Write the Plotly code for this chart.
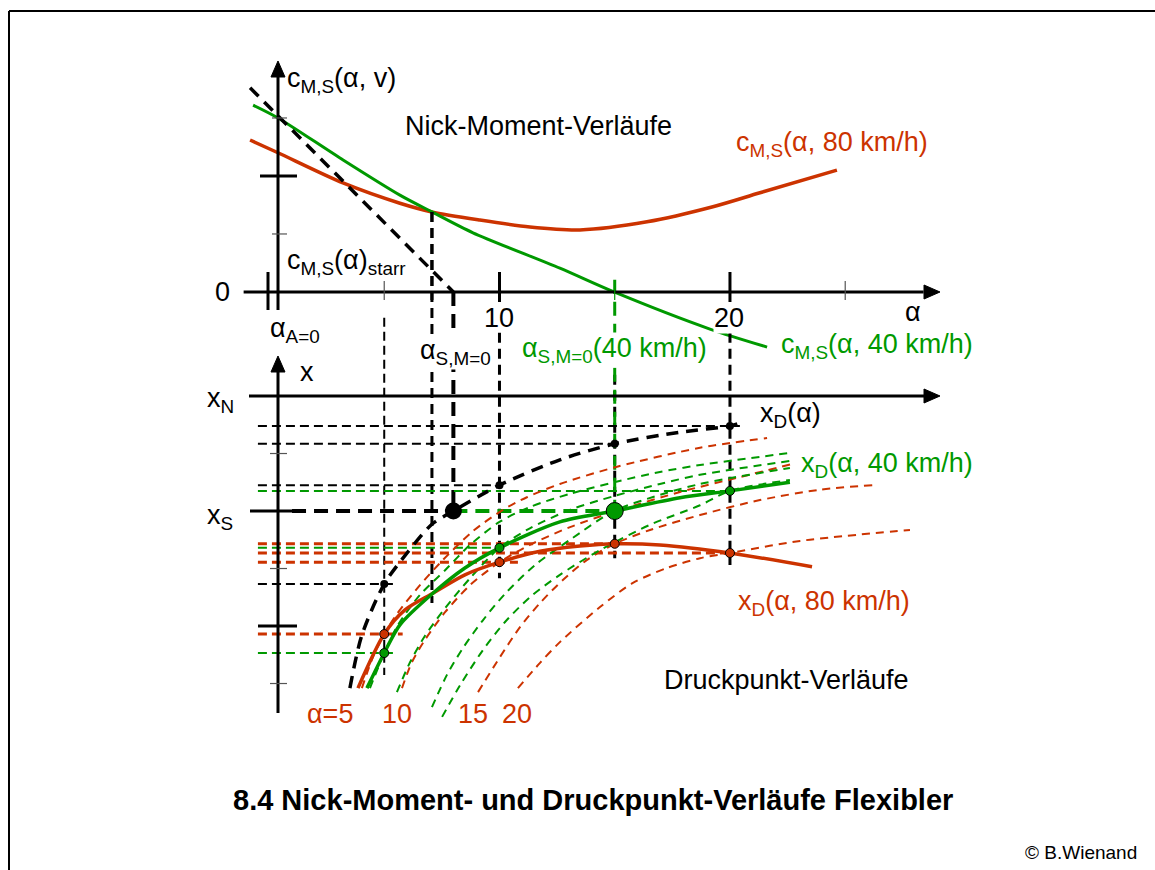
import plotly.graph_objects as go

W, H = 1155, 870
RED = "#CC3300"
GREEN = "#009900"
BLACK = "#000000"
FONT = "Liberation Sans, Arial, sans-serif"

# ---------------- pitching moment c_M,S over alpha (upper panel) ----------------
cm80_alpha = [-0.82, 0.39, 3.21, 5.68, 7.07, 9.15, 11.32, 13.49, 16.40, 19.26, 21.30, 24.64]
cm80_value = [2.62, 2.40, 1.88, 1.53, 1.38, 1.24, 1.12, 1.07, 1.21, 1.47, 1.71, 2.10]

cm40_alpha = [-0.69, 0.39, 3.08, 5.68, 7.07, 8.85, 12.62, 14.97, 19.13, 21.61]
cm40_value = [3.22, 3.00, 2.31, 1.67, 1.38, 1.02, 0.41, 0.0, -0.64, -0.95]

cm_rigid_alpha = [-0.82, 8.0]
cm_rigid_value = [3.52, 0.0]

# ---------------- centre of pressure x_D over alpha (lower panel) ----------------
xd_rigid_alpha = [3.51, 4.03, 5.0, 5.99, 7.07, 8.0, 10.0, 12.62, 15.0, 17.83, 20.0, 20.43]
xd_rigid_value = [-5.08, -4.16, -3.27, -2.73, -2.23, -2.0, -1.55, -1.11, -0.83, -0.63, -0.52, -0.47]

xd40_alpha = [4.25, 5.0, 5.68, 7.11, 8.5, 10.0, 12.62, 15.0, 17.83, 20.0, 22.6]
xd40_value = [-5.08, -4.47, -3.98, -3.43, -2.99, -2.64, -2.19, -2.0, -1.77, -1.65, -1.50]

xd80_alpha = [3.86, 5.0, 5.9, 7.11, 8.5, 10.0, 11.76, 13.49, 15.0, 16.96, 20.0, 23.56]
xd80_value = [-5.08, -4.14, -3.72, -3.43, -3.11, -2.89, -2.70, -2.61, -2.57, -2.59, -2.73, -2.97]

# family of x_D curves at fixed geometric alpha (80 km/h)
fam80_a05 = [4.03, 4.51, 5.0, 5.55, 6.55, 7.55, 8.85, 10.15, 11.19, 12.62, 15.10, 18.70, 21.61]
fam80_x05 = [-5.08, -4.54, -4.14, -3.79, -3.29, -2.85, -2.35, -1.98, -1.76, -1.53, -1.23, -0.90, -0.73]
fam80_a10 = [5.77, 6.20, 6.77, 7.64, 8.72, 10.0, 11.32, 13.06, 15.23, 17.83, 20.43, 22.73]
fam80_x10 = [-5.08, -4.63, -4.24, -3.76, -3.29, -2.89, -2.59, -2.28, -1.98, -1.67, -1.41, -1.18]
fam80_a15 = [9.07, 10.02, 10.89, 11.76, 12.75, 13.80, 15.0, 16.53, 18.70, 21.30, 23.90, 26.20]
fam80_x15 = [-5.15, -4.54, -4.02, -3.60, -3.20, -2.85, -2.57, -2.33, -2.07, -1.81, -1.63, -1.55]
fam80_a20 = [10.80, 11.76, 12.62, 14.36, 15.79, 17.27, 18.70, 20.0, 23.04, 27.81]
fam80_x20 = [-5.08, -4.64, -4.28, -3.67, -3.25, -2.99, -2.82, -2.73, -2.52, -2.33]

# family of x_D curves at fixed geometric alpha (40 km/h)
fam40_a05 = [4.38, 5.0, 5.60, 6.55, 7.64, 8.72, 10.0, 11.32, 13.06, 14.97, 16.96, 18.70, 22.60]
fam40_x05 = [-5.08, -4.47, -3.98, -3.46, -3.03, -2.59, -2.19, -1.93, -1.70, -1.50, -1.32, -1.20, -0.99]
fam40_a10 = [5.55, 6.12, 6.77, 7.64, 8.72, 10.0, 11.32, 13.06, 14.97, 16.96, 18.70, 22.60]
fam40_x10 = [-5.15, -4.63, -4.17, -3.69, -3.17, -2.64, -2.30, -1.98, -1.74, -1.53, -1.37, -1.13]
fam40_a15 = [7.07, 7.72, 8.42, 9.28, 10.24, 11.54, 13.06, 14.97, 16.96, 18.70, 22.60]
fam40_x15 = [-5.41, -4.85, -4.38, -3.90, -3.44, -2.94, -2.50, -2.0, -1.72, -1.53, -1.25]
fam40_a20 = [7.51, 8.29, 9.28, 10.24, 11.32, 12.62, 14.36, 16.53, 18.70, 20.0, 22.60]
fam40_x20 = [-5.58, -5.03, -4.42, -3.93, -3.50, -3.11, -2.68, -2.24, -1.90, -1.65, -1.46]

# read-off points at alpha = 5, 10, 15, 20
mark_alpha = [5, 10, 15, 20]
mark_rigid = [-3.27, -1.55, -0.83, -0.52]
mark_40 = [-4.47, -2.64, -2.0, -1.65]
mark_80 = [-4.14, -2.89, -2.57, -2.73]
# right ends of the horizontal read-off lines
end_rigid = [5.4, 10.0, 15.0, 20.43]
end_40 = [5.4, 10.0, None, 20.0]
end_80 = [5.8, 10.8, 15.0, 20.0]

alpha_sm0_rigid = 8.0      # c_M,S = 0 of the rigid wing
alpha_sm0_40 = 15.0        # c_M,S = 0 at 40 km/h
x_S = -2.0                 # centre of gravity
alpha_cross = 7.07         # crossing of the 40 and 80 km/h curves
cm_cross = 1.38

alpha_ticks = [5, 10, 15, 20, 25]
cm_ticks = [1, 2, 3]
x_ticks = [-1, -2, -3, -4, -5]

fig = go.Figure()


def line(xs, ys, color, width, dash=None, yaxis="y2"):
    fig.add_trace(go.Scatter(
        x=xs, y=ys, mode="lines", yaxis=yaxis, hoverinfo="skip",
        line=dict(color=color, width=width, dash=dash, shape="spline", smoothing=0.8)))


def straight(xs, ys, color, width, dash=None, yaxis="y2"):
    fig.add_trace(go.Scatter(
        x=xs, y=ys, mode="lines", yaxis=yaxis, hoverinfo="skip",
        line=dict(color=color, width=width, dash=dash)))


THIN = "9px,5px"
MED = "10px,6px"
THICK = "14px,8px"
LEFT = -0.48

# ---- guide lines ----
# vertical read-off lines (lower-panel units)
straight([5, 5], [1.36, -4.85], BLACK, 2, THIN)
straight([alpha_cross, alpha_cross], [3.20, -3.60], BLACK, 3, MED)
straight([10, 10], [1.10, -3.17], BLACK, 3, MED)
straight([15, 15], [0.37, -2.82], BLACK, 3, MED)
straight([20, 20], [1.10, -2.94], BLACK, 3, MED)
straight([alpha_sm0_rigid, alpha_sm0_rigid], [1.81, x_S], BLACK, 4, THICK)
straight([alpha_sm0_40, alpha_sm0_40], [2.02, x_S], GREEN, 3, THICK)

# horizontal read-off lines
for v, e in zip(mark_rigid, end_rigid):
    straight([LEFT, e], [v, v], BLACK, 2, THIN)
for v, e in zip(mark_40, end_40):
    if e is not None:
        straight([LEFT, e], [v, v], GREEN, 2, THIN)
for v, e in zip(mark_80, end_80):
    straight([LEFT, e], [v, v], RED, 3, THIN)
straight([1.0, alpha_sm0_rigid], [x_S, x_S], BLACK, 4, THICK)
straight([alpha_sm0_rigid, alpha_sm0_40], [x_S, x_S], GREEN, 4, THICK)

# ---- families ----
for a, x in [(fam80_a05, fam80_x05), (fam80_a10, fam80_x10), (fam80_a15, fam80_x15), (fam80_a20, fam80_x20)]:
    line(a, x, RED, 2, "8px,6px")
for a, x in [(fam40_a05, fam40_x05), (fam40_a10, fam40_x10), (fam40_a15, fam40_x15), (fam40_a20, fam40_x20)]:
    line(a, x, GREEN, 2, "8px,6px")

# ---- main curves ----
line(xd_rigid_alpha, xd_rigid_value, BLACK, 3.5, "12px,8px")
line(xd80_alpha, xd80_value, RED, 3.5)
line(xd40_alpha, xd40_value, GREEN, 3.5)

line(cm80_alpha, cm80_value, RED, 3.5, yaxis="y")
line(cm40_alpha, cm40_value, GREEN, 3, yaxis="y")
straight(cm_rigid_alpha, cm_rigid_value, BLACK, 3.5, "12px,8px", yaxis="y")
straight([alpha_cross, alpha_cross], [cm_cross, -0.14], BLACK, 3, MED, yaxis="y")

# ---- markers ----
fig.add_trace(go.Scatter(x=mark_alpha, y=mark_rigid, mode="markers", yaxis="y2", hoverinfo="skip",
                         marker=dict(color=BLACK, size=8)))
fig.add_trace(go.Scatter(x=mark_alpha, y=mark_80, mode="markers", yaxis="y2", hoverinfo="skip",
                         marker=dict(color=RED, size=9, line=dict(color=BLACK, width=1))))
fig.add_trace(go.Scatter(x=[mark_alpha[i] for i in (0, 1, 3)], y=[mark_40[i] for i in (0, 1, 3)],
                         mode="markers", yaxis="y2", hoverinfo="skip",
                         marker=dict(color=GREEN, size=9, line=dict(color=BLACK, width=1))))
fig.add_trace(go.Scatter(x=[alpha_sm0_rigid], y=[x_S], mode="markers", yaxis="y2", hoverinfo="skip",
                         marker=dict(color=BLACK, size=17)))
fig.add_trace(go.Scatter(x=[alpha_sm0_40], y=[x_S], mode="markers", yaxis="y2", hoverinfo="skip",
                         marker=dict(color=GREEN, size=17, line=dict(color=BLACK, width=1))))

# ---------------- axes, arrows, ticks, frame ----------------
def px(x):
    return x / W


def py(y):
    return 1 - y / H


shapes = []


def seg(x0, y0, x1, y1, width=3, color=BLACK, xref="paper", yref="paper"):
    shapes.append(dict(type="line", xref=xref, yref=yref, x0=x0, y0=y0, x1=x1, y1=y1,
                       line=dict(color=color, width=width), layer="above"))


def tri(points):
    d = "M " + " L ".join(f"{px(a):.5f},{py(b):.5f}" for a, b in points) + " Z"
    shapes.append(dict(type="path", xref="paper", yref="paper", path=d,
                       fillcolor=BLACK, line=dict(color=BLACK, width=1), layer="above"))


# frame
seg(px(9), py(11), px(1155), py(11), 2)
seg(px(9), py(11), px(9), py(870), 2)

# upper panel axes
seg(-1.1, 0, 28.4, 0, 3, xref="x", yref="y")
tri([(940, 292), (924, 285), (924, 299)])
seg(px(278), py(310), px(278), py(76), 3)
tri([(278, 61), (271, 77), (285, 77)])
seg(px(268), py(272), px(268), py(310), 3)
for t in cm_ticks:
    big = t == 2
    seg(px(260 if big else 272), t, px(297 if big else 287), t, 3 if big else 1.2,
        BLACK if big else "#555555", yref="y")
for t in alpha_ticks:
    big = t in (10, 20)
    col = GREEN if t == 15 else (BLACK if big else "#555555")
    seg(t, py(272 if big else 281), t, py(302 if big else 300), 3 if big else 1.2, col, xref="x")

# lower panel axes
seg(px(249), 0, px(925), 0, 3, yref="y2")
tri([(940, 396), (924, 389), (924, 403)])
seg(px(278), py(713), px(278), py(372), 3)
tri([(278, 356), (271, 372), (285, 372)])
for t in x_ticks:
    big = t in (-2, -4)
    seg(px((250 if t == -2 else 258) if big else 270), t, px(297 if big else 287), t,
        3 if big else 1.2, BLACK if big else "#555555", yref="y2")

# ---------------- text ----------------
ann = []
FS = 27


def text(x, y, s, size=FS, color=BLACK, anchor="left", bg=None, bold=False):
    ann.append(dict(x=px(x), y=py(y), xref="paper", yref="paper", text=s, showarrow=False,
                    xanchor=anchor, yanchor="middle",
                    font=dict(family=FONT, size=size, color=color, weight="bold" if bold else "normal"),
                    bgcolor=bg, borderpad=0))


text(286, 80, "c<sub>M,S</sub>(α, v)")
text(404, 126, "Nick-Moment-Verläufe")
text(735, 144, "c<sub>M,S</sub>(α, 80 km/h)", color=RED)
text(286, 262, "c<sub>M,S</sub>(α)<sub>starr</sub>")
text(222, 292, "0", anchor="center")
text(499, 318, "10", anchor="center")
text(729, 318, "20", anchor="center", bg="white")
text(913, 312, "α", anchor="center")
text(269, 330, "α<sub>A=0</sub>")
text(419, 352, "α<sub>S,M=0</sub>", bg="white")
text(521, 350, "α<sub>S,M=0</sub>(40 km/h)", color=GREEN, bg="white")
text(780, 346, "c<sub>M,S</sub>(α, 40 km/h)", color=GREEN)
text(307, 372, "x", anchor="center")
text(206, 400, "x<sub>N</sub>")
text(206, 517, "x<sub>S</sub>")
text(759, 415, "x<sub>D</sub>(α)")
text(800, 465, "x<sub>D</sub>(α, 40 km/h)", color=GREEN)
text(737, 603, "x<sub>D</sub>(α, 80 km/h)", color=RED)
text(663, 680, "Druckpunkt-Verläufe")
text(306, 714, "α=5", color=RED)
text(397, 714, "10", color=RED, anchor="center")
text(473, 714, "15", color=RED, anchor="center")
text(517, 714, "20", color=RED, anchor="center")
text(593, 800, "8.4 Nick-Moment- und Druckpunkt-Verläufe Flexibler", size=29, anchor="center", bold=True)
text(1138, 852, "© B.Wienand", size=19, anchor="right")

fig.update_layout(
    width=W, height=H, margin=dict(l=0, r=0, t=0, b=0),
    paper_bgcolor="white", plot_bgcolor="white", showlegend=False,
    font=dict(family=FONT, size=FS, color=BLACK),
    xaxis=dict(range=[-11.67, 38.44], visible=False, fixedrange=True),
    yaxis=dict(range=[-9.966, 5.034], visible=False, fixedrange=True, domain=[0, 1]),
    yaxis2=dict(range=[-8.243, 6.887], visible=False, fixedrange=True, overlaying="y"),
    shapes=shapes, annotations=ann,
)

fig.write_html("out.html")
